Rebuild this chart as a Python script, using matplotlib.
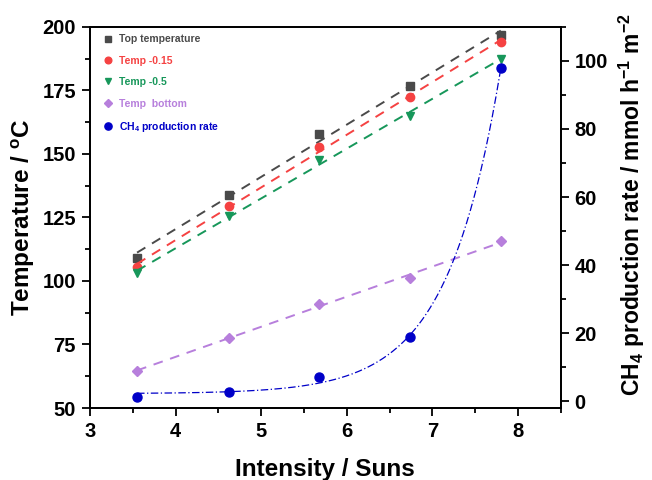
import numpy as np
import matplotlib.pyplot as plt
from matplotlib.ticker import MultipleLocator

plt.rcParams['font.family'] = ['Liberation Sans', 'DejaVu Sans']
plt.rcParams['mathtext.fontset'] = 'custom'
plt.rcParams['mathtext.rm'] = 'Liberation Sans:bold'
plt.rcParams['mathtext.bf'] = 'Liberation Sans:bold'
plt.rcParams['mathtext.default'] = 'bf'

intensity = [3.55, 4.62, 5.68, 6.74, 7.80]
t_top = [109.1, 133.9, 157.9, 176.8, 196.8]
t_015 = [105.5, 129.5, 152.8, 172.4, 194.1]
t_05 = [103.1, 125.6, 147.6, 165.0, 187.5]
t_bottom = [64.6, 77.6, 90.9, 101.2, 115.7]
ch4_rate = [1.3, 2.6, 7.1, 18.9, 97.9]

series = [
    ('Top temperature', t_top, 's', '#4a4a4a'),
    ('Temp -0.15', t_015, 'o', '#f54242'),
    ('Temp -0.5', t_05, 'v', '#17975a'),
    ('Temp  bottom', t_bottom, 'D', '#b77fdc'),
]
blue = '#0000c8'

fig = plt.figure(figsize=(6.52, 4.8), dpi=100)
ax = fig.add_axes([0.138, 0.15, 0.722, 0.794])
ax2 = ax.twinx()

x = np.array(intensity)
xs = np.linspace(x[0], x[-1], 200)
handles = []
for name, vals, m, c in series:
    k, b = np.polyfit(x, vals, 1)
    ax.plot(xs, k * xs + b, '--', color=c, lw=1.4, dashes=(5, 4))
    ms = 5 if m == 'D' else 6
    h, = ax.plot(x, vals, m, color=c, ms=ms, ls='none', label=name)
    handles.append(h)

# exponential fit y = y0 + A*exp(x/t)
y = np.array(ch4_rate)
best = None
for t in np.linspace(0.2, 2.0, 400):
    M = np.column_stack([np.ones_like(x), np.exp(x / t)])
    coef, res, *_ = np.linalg.lstsq(M, y, rcond=None)
    err = np.sum((M @ coef - y) ** 2)
    if best is None or err < best[0]:
        best = (err, t, coef)
_, t, coef = best
xf = np.linspace(x[0], x[-1], 300)
ax2.plot(xf, coef[0] + coef[1] * np.exp(xf / t), color=blue, lw=0.9,
         ls=(0, (6, 2, 1, 2)))
h, = ax2.plot(x, y, 'o', color=blue, ms=6.5, ls='none',
              label='CH$_4$ production rate')
handles.append(h)

ax.set_xlim(3, 8.5)
ax.set_ylim(50, 200)
ax2.set_ylim(-2, 110)
ax.xaxis.set_major_locator(MultipleLocator(1))
ax.xaxis.set_minor_locator(MultipleLocator(0.5))
ax.yaxis.set_major_locator(MultipleLocator(25))
ax.yaxis.set_minor_locator(MultipleLocator(12.5))
ax2.yaxis.set_major_locator(MultipleLocator(20))
ax2.yaxis.set_minor_locator(MultipleLocator(10))

for a in (ax, ax2):
    a.tick_params(which='major', direction='out', length=6, width=1.3,
                  labelsize=14.5, pad=4)
    a.tick_params(which='minor', direction='out', length=3.5, width=1.3)
    for s in a.spines.values():
        s.set_linewidth(1.3)
    for lab in a.get_xticklabels() + a.get_yticklabels():
        lab.set_fontweight('bold')

ax.set_xlabel('Intensity / Suns', fontsize=17.5, fontweight='bold', labelpad=12)
ax.set_ylabel('Temperature / $^o$C', fontsize=17.5, fontweight='bold', labelpad=4)
ax2.set_ylabel('CH$_4$ production rate / mmol h$^{-1}$ m$^{-2}$',
               fontsize=16.5, fontweight='bold')
ax2.yaxis.set_label_coords(1.12, 0.535)

leg = ax.legend(handles=handles, loc='upper left', frameon=False,
                bbox_to_anchor=(0.012, 1.0),
                prop={'size': 7.5, 'weight': 'bold'}, handletextpad=0.5,
                labelspacing=1.1, handlelength=1.0, borderaxespad=0.3,
                markerscale=0.8)
for txt, hh in zip(leg.get_texts(), handles):
    txt.set_color(hh.get_color())

fig.savefig('out.png', dpi=100)
